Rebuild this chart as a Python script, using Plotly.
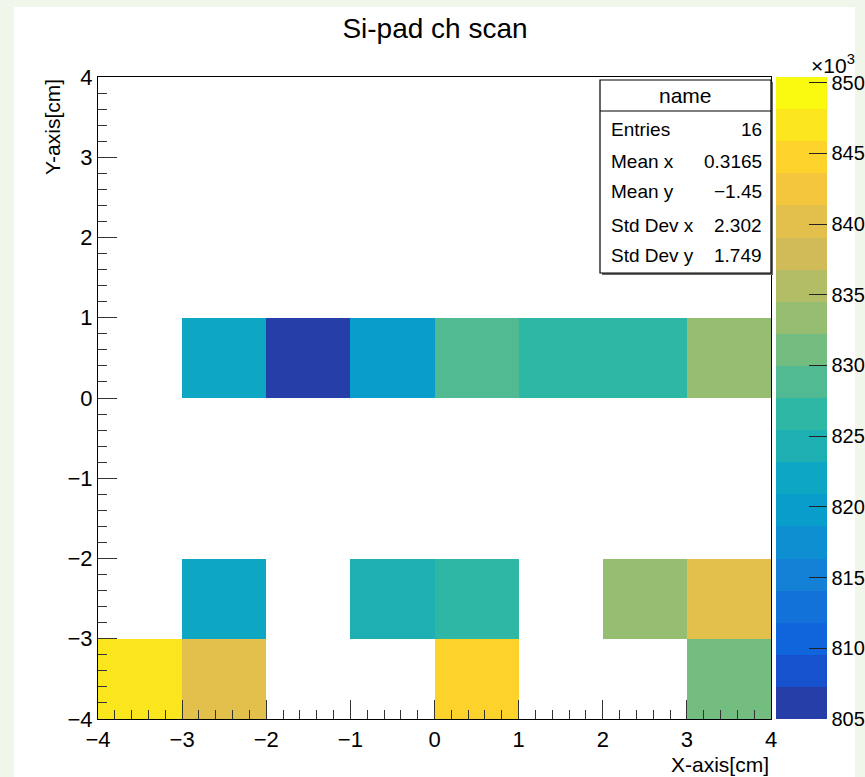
import math
import plotly.graph_objects as go

# ---- data -------------------------------------------------------------
# 8 x 8 pad grid over [-4, 4] cm in both directions (bin centres)
x_centers = [-3.5, -2.5, -1.5, -0.5, 0.5, 1.5, 2.5, 3.5]
y_centers = [-3.5, -2.5, -1.5, -0.5, 0.5, 1.5, 2.5, 3.5]

# filled pads: centre position and channel value
pad_x = [-2.5, -1.5, -0.5, 0.5, 1.5, 2.5, 3.5,
         -2.5, -0.5, 0.5, 2.5, 3.5,
         -3.5, -2.5, 0.5, 3.5]
pad_y = [0.5, 0.5, 0.5, 0.5, 0.5, 0.5, 0.5,
         -2.5, -2.5, -2.5, -2.5, -2.5,
         -3.5, -3.5, -3.5, -3.5]
pad_val = [822000, 805600, 819800, 828800, 826500, 826700, 833400,
           821900, 824300, 826400, 833300, 840200,
           847000, 840000, 844800, 831100]

z_min, z_max = 805000, 850400
n_contours = 20

cbar_ticks = [805000, 810000, 815000, 820000, 825000, 830000, 835000, 840000, 845000, 850000]
cbar_ticktext = [str(v // 1000) for v in cbar_ticks]

axis_ticks = [-4, -3, -2, -1, 0, 1, 2, 3, 4]

stat_labels = ["Entries", "Mean x", "Mean y", "Std Dev x", "Std Dev y"]
stat_values = [str(len(pad_val)), "0.3165", "\u22121.45", "2.302", "1.749"]

# ---- bird palette (255-colour gradient, 20 contour bands) --------------
stops = [0.0, 0.125, 0.25, 0.375, 0.5, 0.625, 0.75, 0.875, 1.0]
red = [0.2082, 0.0592, 0.0780, 0.0232, 0.1802, 0.5301, 0.8186, 0.9956, 0.9764]
green = [0.1664, 0.3599, 0.5041, 0.6419, 0.7178, 0.7492, 0.7328, 0.7862, 0.9832]
blue = [0.5293, 0.8684, 0.8385, 0.7914, 0.6425, 0.4662, 0.3499, 0.1968, 0.0539]

N_COL = 255
palette = []
for g in range(1, len(stops)):
    n = int(math.floor(N_COL * stops[g]) - math.floor(N_COL * stops[g - 1]))
    for c in range(n):
        r = red[g - 1] + c * (red[g] - red[g - 1]) / n
        gg = green[g - 1] + c * (green[g] - green[g - 1]) / n
        b = blue[g - 1] + c * (blue[g] - blue[g - 1]) / n
        palette.append((round(r * 255), round(gg * 255), round(b * 255)))

colorscale = []
for i in range(n_contours):
    idx = min(int((i + 0.99) * N_COL / n_contours), N_COL - 1)
    r, g, b = palette[idx]
    col = f"rgb({r},{g},{b})"
    colorscale.append([i / n_contours, col])
    colorscale.append([(i + 1) / n_contours, col])

# ---- grid -------------------------------------------------------------
z = [[None for _ in x_centers] for _ in y_centers]
for px, py, v in zip(pad_x, pad_y, pad_val):
    z[y_centers.index(py)][x_centers.index(px)] = v

# ---- layout helpers (pixel -> paper) ----------------------------------
W, H = 865, 777
L, R, T, B = 98, 771, 77, 719


def fx(px):
    return (px - L) / (R - L)


def fy(py):
    return (B - py) / (B - T)


FONT = "Liberation Sans, Arial, Helvetica, sans-serif"

fig = go.Figure()
fig.add_trace(go.Heatmap(
    x=x_centers, y=y_centers, z=z,
    zmin=z_min, zmax=z_max,
    colorscale=colorscale,
    hoverongaps=False,
    colorbar=dict(
        thickness=51, thicknessmode="pixels",
        len=1.0, lenmode="fraction",
        x=fx(776), xanchor="left", xpad=0,
        y=0.5, yanchor="middle", ypad=0,
        outlinewidth=0,
        tickvals=cbar_ticks, ticktext=cbar_ticktext,
        ticks="inside", ticklen=18, tickwidth=1, tickcolor="#222",
        tickfont=dict(family=FONT, size=20, color="black"),
    ),
))

axis_common = dict(
    range=[-4, 4],
    tickvals=axis_ticks,
    ticks="inside", ticklen=19, tickwidth=1, tickcolor="#333",
    minor=dict(ticks="inside", ticklen=9, dtick=0.2, tickwidth=1, tickcolor="#333"),
    showgrid=False, zeroline=False,
    showline=True, linecolor="black", linewidth=1.2, mirror=True,
    tickfont=dict(family=FONT, size=22, color="black"),
)

fig.update_layout(
    width=W, height=H,
    margin=dict(l=L, r=W - R, t=T, b=H - B, autoexpand=False),
    paper_bgcolor="#f0f7ea",
    plot_bgcolor="white",
    showlegend=False,
    title=dict(text="Si-pad ch scan", x=435 / W, xanchor="center",
               y=1 - 28 / H, yanchor="middle", yref="container",
               font=dict(family=FONT, size=28, color="black")),
    xaxis=dict(**axis_common, tick0=-4),
    yaxis=dict(**axis_common, tick0=-4),
)

shapes = [
    # white canvas
    dict(type="rect", xref="paper", yref="paper", layer="below",
         x0=fx(14), x1=fx(855), y0=fy(7), y1=fy(777),
         fillcolor="white", line=dict(width=0)),
    # stats box shadow and frame
    dict(type="rect", xref="paper", yref="paper", layer="above",
         x0=fx(602), x1=fx(773), y0=fy(82), y1=fy(275),
         fillcolor="#666", line=dict(width=0)),
    dict(type="rect", xref="paper", yref="paper", layer="above",
         x0=fx(600), x1=fx(771), y0=fy(80), y1=fy(273),
         fillcolor="white", line=dict(color="black", width=1.2)),
    dict(type="line", xref="paper", yref="paper", layer="above",
         x0=fx(600), x1=fx(771), y0=fy(111), y1=fy(111),
         line=dict(color="black", width=1.2)),
]
fig.update_layout(shapes=shapes)

ann = []
ann.append(dict(text="name", x=fx(685), y=fy(96), xref="paper", yref="paper",
                xanchor="center", yanchor="middle", showarrow=False,
                font=dict(family=FONT, size=21, color="black")))
row_y = [130, 161, 192, 225, 256]
for lab, val, ry in zip(stat_labels, stat_values, row_y):
    ann.append(dict(text=lab, x=fx(609), y=fy(ry), xref="paper", yref="paper",
                    xanchor="left", yanchor="middle", showarrow=False,
                    font=dict(family=FONT, size=19, color="black")))
    ann.append(dict(text=val, x=fx(764), y=fy(ry), xref="paper", yref="paper",
                    xanchor="right", yanchor="middle", showarrow=False,
                    font=dict(family=FONT, size=19, color="black")))

# axis titles
ann.append(dict(text="X-axis[cm]", x=1.0, y=fy(765), xref="paper", yref="paper",
                xanchor="right", yanchor="middle", showarrow=False,
                font=dict(family=FONT, size=21, color="black")))
ann.append(dict(text="Y-axis[cm]", x=fx(52), y=1.0, xref="paper", yref="paper",
                xanchor="center", yanchor="top", textangle=-90, showarrow=False,
                font=dict(family=FONT, size=21, color="black")))
# colour-axis multiplier
ann.append(dict(text="\u00d710<sup>3</sup>", x=fx(833), y=fy(64), xref="paper", yref="paper",
                xanchor="center", yanchor="middle", showarrow=False,
                font=dict(family=FONT, size=21, color="black")))
fig.update_layout(annotations=ann)

fig.write_html("out.html")
